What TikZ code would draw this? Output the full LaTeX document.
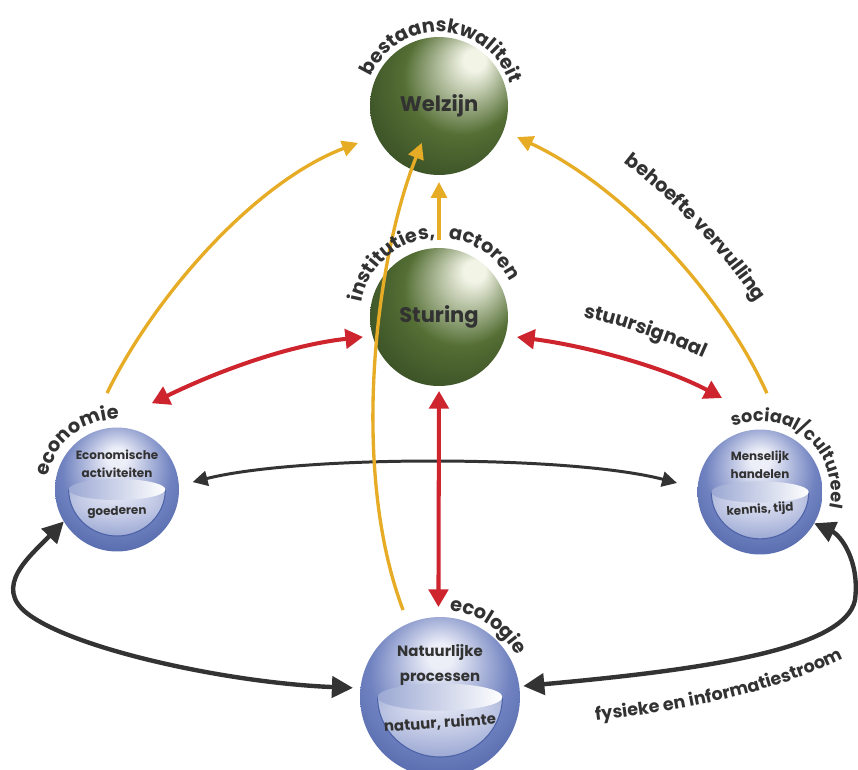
\documentclass[tikz,border=0pt]{standalone}
\usepackage{fontspec}
\setmainfont{Poppins}
\usetikzlibrary{arrows.meta,decorations.text}

\definecolor{welgold}{RGB}{230,172,38}
\definecolor{stuurred}{RGB}{205,36,46}
\definecolor{flowgrey}{RGB}{51,51,51}
\definecolor{txtgrey}{RGB}{50,50,50}
\definecolor{greendark}{RGB}{36,56,26}
\definecolor{greenmid}{RGB}{84,110,52}
\definecolor{greenhi}{RGB}{242,244,230}
\definecolor{blueedge}{RGB}{76,98,166}
\definecolor{bluemid}{RGB}{112,130,192}
\definecolor{bluehi}{RGB}{236,238,248}

\pgfdeclareradialshading{greenball}{\pgfpoint{14bp}{18bp}}{color(0bp)=(greenhi); color(4bp)=(greenhi); color(21bp)=(greenmid); color(38bp)=(greendark!70!greenmid); color(50bp)=(greendark)}
\pgfdeclareradialshading{blueball}{\pgfpoint{0bp}{14bp}}{color(0bp)=(bluehi); color(4bp)=(bluehi); color(22bp)=(bluemid); color(36bp)=(blueedge); color(50bp)=(blueedge!90!black)}
\pgfdeclareradialshading{bowlshade}{\pgfpoint{0bp}{25bp}}{color(0bp)=(bluehi); color(20bp)=(bluehi!65!bluemid); color(50bp)=(bluemid)}

\newcommand\labelfont{\fontsize{11}{13}\selectfont\bfseries\color{txtgrey}}
\newcommand\smalllabelfont{\fontsize{10}{12}\selectfont\bfseries\color{txtgrey}}
\def\bowl(#1:#2){%
  \shadedraw[shading=bowlshade, draw=blueedge, line width=0.6pt] (#1.center) ++(180:0.78*#2) arc[start angle=180, end angle=360, x radius=0.78*#2, y radius=0.75*#2] -- cycle;
  \shade[left color=bluemid!70!white, right color=white] (#1.center) ellipse[x radius=0.78*#2, y radius=0.17*#2];
}

\tikzset{
  greensphere/.style={circle, shade, shading=greenball, minimum size=2.76cm, inner sep=0pt, outer sep=0pt, text=txtgrey, font=\fontsize{12}{14}\selectfont\bfseries},
  bluesphere/.style={circle, shade, shading=blueball, inner sep=0pt, outer sep=0pt},
  spheretext/.style={align=center, text=txtgrey, font=\fontsize{6.8}{10}\selectfont\bfseries, inner sep=0pt},
  goldarrow/.style={welgold, line width=1.9pt, -{Triangle[length=9pt,width=9pt]}},
  redarrow/.style={stuurred, line width=2.3pt, {Triangle[length=10pt,width=11pt]}-{Triangle[length=10pt,width=11pt]}},
  flowarrow/.style={flowgrey, line width=2.5pt, {Triangle[length=12pt,width=12pt]}-{Triangle[length=12pt,width=12pt]}},
  thinflow/.style={flowgrey, line width=1.7pt, {Triangle[length=8.5pt,width=8.5pt]}-{Triangle[length=8.5pt,width=8.5pt]}},
  arclabel/.style={decorate, decoration={text along path, text align=center, text={|\labelfont|#1}}},
  smallarclabel/.style={decorate, decoration={text along path, text align=center, text={|\smalllabelfont|#1}}}
}

\begin{document}
\begin{tikzpicture}[x=0.02cm, y=0.02cm]
  \useasboundingbox (0,0) rectangle (858,769);

  % spheres
  \node[greensphere] (welzijn) at (439,663) {Welzijn};
  \node[greensphere] (sturing) at (439,452) {Sturing};
  \node[bluesphere, minimum size=2.48cm] (economie) at (117,279.5) {};
  \node[bluesphere, minimum size=2.5cm] (sociaal) at (760,277) {};
  \node[bluesphere, minimum size=3.2cm] (ecologie) at (440,72) {};

  \bowl(economie:62)
  \bowl(sociaal:62.5)
  \bowl(ecologie:80)

  \node[spheretext, yshift=0.51cm] (econ-act) at (economie) {Economische\\activiteiten};
  \node[spheretext, yshift=-0.45cm, rotate=2] (econ-goed) at (economie) {goederen};
  \node[spheretext, yshift=0.55cm] (soc-hand) at (sociaal) {Menselijk\\handelen};
  \node[spheretext, yshift=-0.36cm, rotate=4] (soc-kennis) at (sociaal) {kennis, tijd};
  \node[spheretext, font=\fontsize{8.5}{14.7}\selectfont\bfseries, yshift=0.64cm] (ecol-nat) at (ecologie) {Natuurlijke\\processen};
  \node[spheretext, font=\fontsize{8.5}{10}\selectfont\bfseries, yshift=-0.52cm, rotate=4] (ecol-ruimte) at (ecologie) {natuur, ruimte};

  % connector ends
  \path (economie.center) ++(95.9:97) coordinate (econ-w);
  \path (welzijn.center) ++(204.5:89) coordinate (welz-econ);
  \path (sociaal.center) ++(86:99) coordinate (soc-w);
  \path (welzijn.center) ++(338.3:84) coordinate (welz-soc);
  \path (ecologie.center) ++(113:94.5) coordinate (ecol-w);
  \path (welzijn.center) ++(245:40.7) coordinate (welz-ecol);
  \path (sturing.center) ++(90:77) coordinate (stur-w);
  \path (welzijn.center) ++(270:76) coordinate (welz-stur);
  \path (economie.center) ++(68:93) coordinate (econ-s);
  \path (sturing.center) ++(194.7:78.6) coordinate (stur-econ);
  \path (sturing.center) ++(345.6:80.5) coordinate (stur-soc);
  \path (sociaal.center) ++(112:101.4) coordinate (soc-s);
  \path (sturing.center) ++(270:74) coordinate (stur-ecol);
  \path (ecologie.center) ++(91:90) coordinate (ecol-s);
  \path (economie.center) ++(5.6:76) coordinate (econ-soc);
  \path (sociaal.center) ++(173.8:83.5) coordinate (soc-econ);
  \path (ecologie.center) ++(174:87.5) coordinate (ecol-econ);
  \path (ecologie.center) ++(7.5:84) coordinate (ecol-soc);

  % fysieke en informatiestroom
  \draw[thinflow] (econ-soc) .. controls (300,314) and (570,314) .. (soc-econ);
  \draw[flowarrow] (economie.211.8) .. controls (30,213) and (-8,182) .. (28,155) .. controls (76,119) and (230,86) .. (ecol-econ);
  \draw[flowarrow] (sociaal.330.5) .. controls (840,234) and (860,209) .. (855,169) .. controls (845,119) and (700,99) .. (ecol-soc);

  % stuursignaal
  \draw[redarrow] (econ-s) .. controls (220,399) and (290,424) .. (stur-econ);
  \draw[redarrow] (stur-soc) .. controls (580,424) and (660,404) .. (soc-s);
  \draw[redarrow] (stur-ecol) -- (ecol-s);

  % behoefte vervulling
  \draw[goldarrow] (econ-w) .. controls (155,474) and (255,587) .. (welz-econ);
  \draw[goldarrow] (soc-w) .. controls (720,479) and (620,584) .. (welz-soc);
  \draw[goldarrow] (ecol-w) .. controls (350,299) and (375,509) .. (welz-ecol);
  \draw[goldarrow] (stur-w) -- (welz-stur);

  % labels
  \path[arclabel={bestaanskwaliteit}] ([shift={(168:74)}]welzijn.center) arc[start angle=168, end angle=6, radius=74];
  \path[arclabel={instituties,}] ([shift={(176:79)}]sturing.center) arc[start angle=176, end angle=86, radius=79];
  \path[arclabel={actoren}] ([shift={(96:79)}]sturing.center) arc[start angle=96, end angle=14, radius=79];
  \path[arclabel={economie}] ([shift={(175:70)}]economie.center) arc[start angle=175, end angle=83, radius=70];
  \path[smallarclabel={sociaal/cultureel}] ([shift={(120:71)}]sociaal.center) arc[start angle=120, end angle=-20, radius=71];
  \path[arclabel={ecologie}] ([shift={(92:87)}]ecologie.center) arc[start angle=92, end angle=20, radius=87];
  \path[arclabel={behoefte vervulling}] (595,628) .. controls (665,579) and (730,514) .. (775,436);
  \path[arclabel={stuursignaal}] (560,456) .. controls (610,448) and (665,430) .. (725,401);
  \path[smallarclabel={fysieke en informatiestroom}] (575,46) .. controls (670,56) and (780,74) .. (862,120);
\end{tikzpicture}
\end{document}
